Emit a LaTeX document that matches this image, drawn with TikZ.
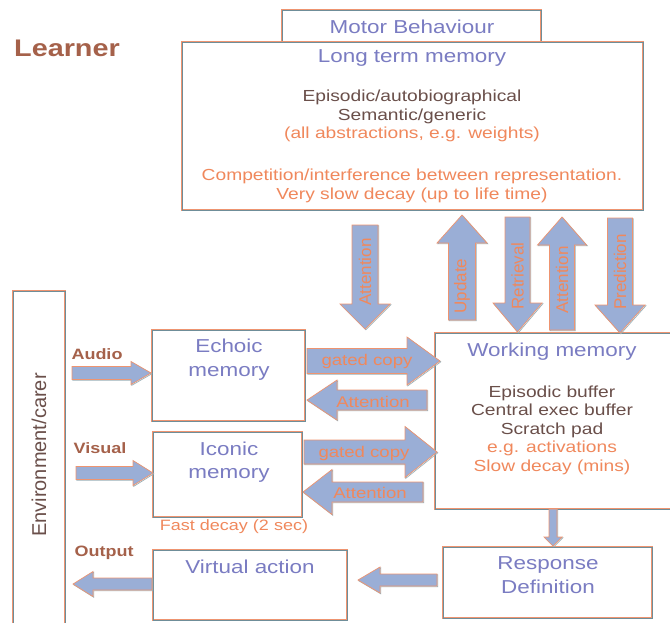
\documentclass[tikz,border=0pt]{standalone}
\usepackage{fontspec}
\setmainfont{Liberation Sans}[FakeStretch=1.2]
\newfontfamily\plainsans{Liberation Sans}
\definecolor{headc}{HTML}{7A7CC2}
\definecolor{darkc}{HTML}{6A4F4A}
\definecolor{orc}{HTML}{F0885C}
\definecolor{labc}{HTML}{A5614A}
\definecolor{boxor}{HTML}{EE9470}
\definecolor{boxteal}{HTML}{6F8E99}
\definecolor{arrfill}{HTML}{9AAED6}
% horizontal block arrow: name, tail x, tip x, centre y, shaft half, head half, head length (signed)
\newcommand\hbarrow[7]{%
  \path[barrow] (#2,{#4-#5}) -- ({#3-#7},{#4-#5}) -- ({#3-#7},{#4-#6}) -- (#3,#4)
    -- ({#3-#7},{#4+#6}) -- ({#3-#7},{#4+#5}) -- (#2,{#4+#5}) -- cycle;
  \coordinate (#1) at ({(#2+#3)/2},#4);}
% vertical block arrow: name, tail y, tip y, centre x, shaft half, head half, head length (signed)
\newcommand\vbarrow[7]{%
  \path[barrow] ({#4-#5},#2) -- ({#4-#5},{#3-#7}) -- ({#4-#6},{#3-#7}) -- (#4,#3)
    -- ({#4+#6},{#3-#7}) -- ({#4+#5},{#3-#7}) -- ({#4+#5},#2) -- cycle;
  \coordinate (#1) at (#4,{(#2+#3)/2});}
\begin{document}
\begin{tikzpicture}[x=1pt,y=-1pt,
  box/.style={draw=boxor, line width=1.5pt, fill=white,
    postaction={draw=boxteal, line width=0.5pt},
    inner sep=0pt, outer sep=0pt},
  barrow/.style={fill=arrfill, draw=boxor, line width=0.7pt, line join=miter,
    preaction={draw=boxteal!70, line width=0.7pt, transform canvas={xshift=0.8pt,yshift=-0.8pt}}},
  head/.style={font=\fontsize{18.7}{24}\selectfont, text=headc, inner sep=0pt, align=center},
  body/.style={font=\fontsize{16}{18.5}\selectfont, text=darkc, align=center, inner sep=0pt},
  lab/.style={font=\fontsize{15}{18}\selectfont\bfseries, text=labc, inner sep=0pt},
  alab/.style={font=\fontsize{15.5}{18}\selectfont, text=orc, inner sep=0pt},
  vlab/.style={font=\plainsans\fontsize{17}{20}\selectfont, text=orc, inner sep=0pt, rotate=90},
]
\useasboundingbox (0,0) rectangle (670,622);
\fill[white] (0,0) rectangle (670,622);

% boxes
\node[box, minimum width=259, minimum height=40] (motor) at (411.5,30) {};
\node[box, minimum width=461, minimum height=168] (ltm) at (412.5,126) {};
\node[box, minimum width=52, minimum height=335] (env) at (39,458.5) {};
\node[box, minimum width=153, minimum height=91] (echoic) at (228.5,375.5) {};
\node[box, minimum width=149, minimum height=85] (iconic) at (227.5,474.5) {};
\node[box, minimum width=240, minimum height=176] (wm) at (555,421) {};
\node[box, minimum width=209, minimum height=71] (resp) at (547.5,582.5) {};
\node[box, minimum width=194, minimum height=70] (virt) at (250,585) {};

% texts
\node[font=\fontsize{24}{28}\selectfont\bfseries, text=labc, inner sep=0pt] (learner) at (67,48) {Learner};
\node[head] (motort) at (412,27) {Motor Behaviour};
\node[head] (ltmt) at (412,58) {Long term memory};
\node[body] (ltmb) at (412,116) {Episodic/autobiographical\\Semantic/generic\\\textcolor{orc}{(all abstractions, e.g. weights)}};
\node[body, text=orc] (ltmc) at (412,186) {Competition/interference between representation.\\Very slow decay (up to life time)};
\node[head] (wmt) at (552,352) {Working memory};
\node[body] (wmb) at (552,430) {Episodic buffer\\Central exec buffer\\Scratch pad\\\textcolor{orc}{e.g. activations}\\\textcolor{orc}{Slow decay (mins)}};
\node[head] (echoict) at (229,360) {Echoic\\memory};
\node[head, font=\fontsize{18.7}{22.5}\selectfont] (iconict) at (229,462) {Iconic\\memory};
\node[alab, font=\fontsize{15}{18}\selectfont] (fast) at (234,527) {Fast decay (2 sec)};
\node[head] (virtt) at (250,567) {Virtual action};
\node[head] (respt) at (548,575) {Response\\Definition};
\node[lab] (audio) at (97,354) {Audio};
\node[lab] (visual) at (100,448) {Visual};
\node[lab] (output) at (104,553) {Output};
\node[font=\plainsans\fontsize{20}{24}\selectfont, text=darkc, inner sep=0pt, rotate=90] (envt) at (39,455) {Environment/carer};

% horizontal block arrows
\hbarrow{aud}{72}{151}{373}{6.5}{11.5}{20}
\hbarrow{vis}{76}{153}{473}{6.5}{12.5}{20}
\hbarrow{outp}{152}{73}{584}{6}{12.5}{-20}
\hbarrow{respv}{437}{358}{580}{6}{13}{-22}
\hbarrow{gc1}{307}{440}{361}{12.5}{24}{33}
\hbarrow{at1}{427}{307}{400}{10}{20}{-30}
\hbarrow{gc2}{304}{437}{452}{12}{25.5}{32}
\hbarrow{at2}{423}{303}{492}{10}{22.5}{-29}
% vertical block arrows
\vbarrow{atd}{225}{329}{365}{13}{25}{25}
\vbarrow{upd}{320}{215}{462}{13.5}{25}{-28}
\vbarrow{ret}{217}{332}{517.5}{12.5}{24.5}{29}
\vbarrow{atu}{330}{217}{562}{12.5}{24.5}{-28}
\vbarrow{pred}{218}{333}{620}{12.5}{25}{28}
\vbarrow{wmr}{509}{546}{553}{4}{9}{9}

% arrow labels
\node[alab] at (367,361) {gated copy};
\node[alab] at (373,402) {Attention};
\node[alab] at (364,453) {gated copy};
\node[alab] at (370,493) {Attention};
\node[vlab] at (365,272) {Attention};
\node[vlab] at (462,286) {Update};
\node[vlab] at (517.5,276) {Retrieval};
\node[vlab] at (562,280) {Attention};
\node[vlab] at (620,272) {Prediction};
\end{tikzpicture}
\end{document}
